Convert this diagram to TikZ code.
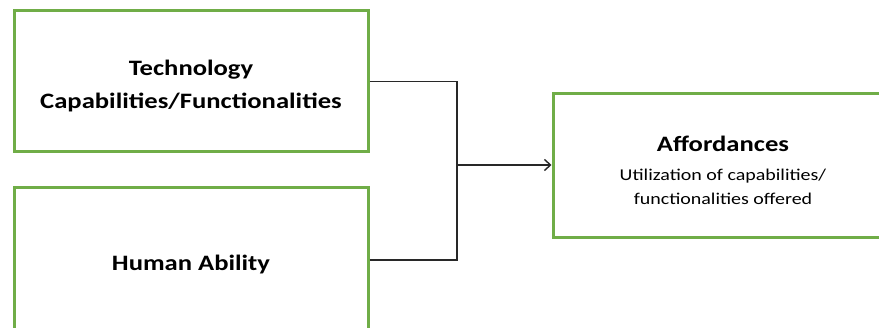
\documentclass[tikz,border=0pt]{standalone}
\usepackage{fontspec}
\setmainfont{Carlito}
\newfontfamily\calib[FakeStretch=1.21]{Carlito}
\usetikzlibrary{arrows.meta}
\definecolor{boxgreen}{RGB}{112,173,71}
\definecolor{linegray}{RGB}{40,40,40}
\tikzset{
  gbox/.style={draw=boxgreen, line width=3pt, fill=white, rectangle, inner sep=0pt},
  bigtxt/.style={align=center, inner sep=0pt, font=\calib\bfseries\fontsize{22}{33}\selectfont},
  smalltxt/.style={align=center, inner sep=0pt, font=\calib\fontsize{16.5}{24}\selectfont},
  conn/.style={draw=linegray, line width=1.4pt},
}
\begin{document}
\begin{tikzpicture}[x=1pt,y=-1pt]
\useasboundingbox[fill=white] (0,0) rectangle (879,328);
\node[gbox, minimum width=354pt, minimum height=141pt] (tech) at (191,81.5) {};
\node[gbox, minimum width=354pt, minimum height=144pt] (human) at (191,260) {};
\node[gbox, minimum width=340pt, minimum height=144pt] (aff) at (723,166) {};
\node[bigtxt] (techtxt) at ([yshift=-5pt]tech.center) {Technology\\Capabilities/Functionalities};
\node[bigtxt] (humantxt) at ([yshift=-5pt]human.center) {Human Ability};
\node[smalltxt] (afftxt) at ([yshift=-4.5pt]aff.center)
  {{\bfseries\fontsize{22}{26}\selectfont Affordances}\\[5pt]
   Utilization of capabilities/\\
   functionalities offered};
\coordinate (j) at (457,165);
\draw[conn] (tech.east) -| (j);
\draw[conn] (human.east) -| (j);
\draw[conn, -{Straight Barb[length=6pt,width=11pt,line width=1.4pt]}] (j) -- (aff.west |- j);
\end{tikzpicture}
\end{document}
